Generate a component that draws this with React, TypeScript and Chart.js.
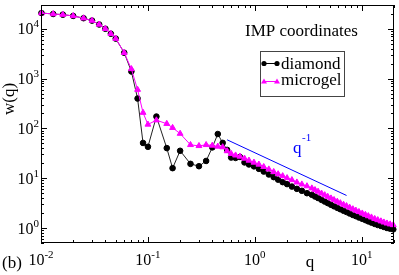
import React, { useEffect, useRef } from 'react';
import { Chart, registerables } from 'chart.js';
Chart.register(...registerables);

const qValues = [0.0101, 0.013, 0.016, 0.02, 0.025, 0.03, 0.035, 0.04, 0.045, 0.05, 0.06,
  0.07, 0.08, 0.09, 0.1, 0.12, 0.15, 0.17, 0.2, 0.25, 0.3, 0.35, 0.4, 0.45, 0.5, 0.55,
  0.6, 0.66, 0.725, 0.8, 0.88, 0.98, 1.09, 1.21, 1.35, 1.5, 1.65, 1.82, 2.0,
  2.22, 2.47, 2.75, 3.07, 3.41, 3.65, 3.9, 4.2, 4.5, 4.8, 5.15, 5.5, 5.9, 6.3, 6.75, 7.2,
  7.7, 8.25, 8.8, 9.4, 10.1, 10.8, 11.5, 12.3, 13.2, 14.1, 15.1, 16.1, 17.2, 18.4, 19.7];

const diamondW = [20700, 19800, 19200, 18100, 16300, 14600, 12200, 10000, 7960, 6340, 3300,
  1390, 398, 51, 42.7, 173, 40.2, 15.9, 35.5, 19.4, 17.4, 22.2, 41.5, 77.1, 51.2, 37,
  26.0, 25.5, 26.7, 20.7, 18.9, 17.3, 15.4, 13.6, 11.9, 10.5, 9.34, 8.33, 7.61,
  6.79, 6.11, 5.58, 5.0, 4.65, 4.3, 4.0, 3.67, 3.4, 3.16, 2.93, 2.73, 2.54, 2.38, 2.22, 2.09,
  1.96, 1.83, 1.73, 1.63, 1.53, 1.44, 1.36, 1.285, 1.21, 1.15, 1.1, 1.05, 1.0, 0.97, 0.94];

const microgelW = [20700, 19800, 19200, 18100, 16300, 14600, 12200, 10000, 7960, 6340, 3300,
  1560, 600, 207, 120, 146, 124, 103, 78.5, 46.7, 44.6, 46.7, 45.4, 43.4, 42.1, 35.1,
  31.0, 28.8, 27.3, 24.9, 22.7, 20.7, 18.9, 16.9, 15.1, 13.4, 12.1, 11.06, 10.1,
  9.21, 8.26, 7.54, 6.94, 6.28, 5.81, 5.4, 4.95, 4.59, 4.26, 3.95, 3.67, 3.4, 3.17, 2.95, 2.77,
  2.58, 2.4, 2.25, 2.11, 1.97, 1.85, 1.74, 1.64, 1.53, 1.45, 1.37, 1.3, 1.24, 1.19, 1.15];

const refLineQ = [0.55, 7.2];
const refLineW = [59, 4.5];

const xTickExps = [-2, -1, 0, 1];
const yTickExps = [0, 1, 2, 3, 4];
const minorMultipliers = [2, 3, 4, 5, 6, 7, 8, 9];

const SERIF = '"Liberation Serif", "DejaVu Serif", serif';

function drawPow(ctx: CanvasRenderingContext2D, exp: number, x: number, y: number, align: 'center' | 'right') {
  ctx.font = `16px ${SERIF}`;
  const wb = ctx.measureText('10').width;
  const es = exp < 0 ? '-' + Math.abs(exp) : String(exp);
  ctx.font = `11px ${SERIF}`;
  const we = ctx.measureText(es).width;
  const total = wb + we;
  const sx = align === 'center' ? x - total / 2 : x - total;
  ctx.textAlign = 'left';
  ctx.textBaseline = 'alphabetic';
  ctx.font = `16px ${SERIF}`;
  ctx.fillText('10', sx, y);
  ctx.font = `11px ${SERIF}`;
  ctx.fillText(es, sx + wb, y - 7);
}

const decor = {
  id: 'decor',
  afterDraw(chart: any) {
    const ctx: CanvasRenderingContext2D = chart.ctx;
    const { left, right, top, bottom } = chart.chartArea;
    const xs = chart.scales.x;
    const ys = chart.scales.y;
    ctx.save();
    ctx.strokeStyle = '#000';
    ctx.fillStyle = '#000';
    ctx.lineWidth = 1;
    ctx.strokeRect(left + 0.5, top + 0.5, right - left - 1, bottom - top - 1);

    ctx.beginPath();
    // x ticks
    for (const e of [-2, -1, 0, 1]) {
      for (const m of [1, ...minorMultipliers]) {
        const v = m * Math.pow(10, e);
        if (v < xs.min * 0.999 || v > xs.max * 1.001) continue;
        const px = Math.round(xs.getPixelForValue(v)) + 0.5;
        const len = m === 1 ? 6 : 3;
        ctx.moveTo(px, bottom); ctx.lineTo(px, bottom - len);
        ctx.moveTo(px, top); ctx.lineTo(px, top + len);
      }
    }
    // y ticks
    for (const e of [-1, 0, 1, 2, 3, 4]) {
      for (const m of [1, ...minorMultipliers]) {
        const v = m * Math.pow(10, e);
        if (v < ys.min * 0.999 || v > ys.max * 1.001) continue;
        const py = Math.round(ys.getPixelForValue(v)) + 0.5;
        const len = m === 1 ? 6 : 3;
        ctx.moveTo(left, py); ctx.lineTo(left + len, py);
        ctx.moveTo(right, py); ctx.lineTo(right - len, py);
      }
    }
    ctx.stroke();

    // tick labels
    for (const e of xTickExps) {
      const px = xs.getPixelForValue(Math.pow(10, e));
      drawPow(ctx, e, px, 265, 'center');
    }
    for (const e of yTickExps) {
      const py = ys.getPixelForValue(Math.pow(10, e));
      drawPow(ctx, e, left - 2, py + 5.5, 'right');
    }

    // axis titles
    ctx.font = `17px ${SERIF}`;
    ctx.textAlign = 'center';
    ctx.fillText('q', 310, 267);
    ctx.textAlign = 'left';
    ctx.fillText('(b)', 2, 268);
    ctx.save();
    ctx.translate(14, 99);
    ctx.rotate(-Math.PI / 2);
    ctx.textAlign = 'center';
    ctx.fillText('w(q)', 0, 0);
    ctx.restore();

    // annotation
    ctx.textAlign = 'left';
    ctx.font = `17px ${SERIF}`;
    ctx.fillText('IMP coordinates', 245, 36);

    // legend box
    ctx.strokeStyle = '#444';
    ctx.strokeRect(260.5, 51.5, 84, 45);
    ctx.fillStyle = '#000';
    ctx.fillText('diamond', 281, 69);
    ctx.fillText('microgel', 281, 85);
    // diamond sample
    ctx.strokeStyle = '#000';
    ctx.beginPath(); ctx.moveTo(264, 63.5); ctx.lineTo(277, 63.5); ctx.stroke();
    for (const sx of [264, 277]) {
      ctx.beginPath(); ctx.arc(sx, 63.5, 2.6, 0, Math.PI * 2); ctx.fill();
    }
    // microgel sample
    ctx.strokeStyle = '#ff00ff';
    ctx.fillStyle = '#ff00ff';
    ctx.beginPath(); ctx.moveTo(264, 81.5); ctx.lineTo(277, 81.5); ctx.stroke();
    for (const sx of [264, 277]) {
      ctx.beginPath();
      ctx.moveTo(sx, 78.5); ctx.lineTo(sx + 3, 83.5); ctx.lineTo(sx - 3, 83.5); ctx.closePath();
      ctx.fill();
    }

    // q^-1 label
    ctx.fillStyle = '#0000ff';
    ctx.font = `17px ${SERIF}`;
    ctx.fillText('q', 293, 153);
    ctx.font = `11px ${SERIF}`;
    ctx.fillText('-1', 302, 141);
    ctx.restore();
  },
};

export default function App() {
  const ref = useRef<HTMLCanvasElement>(null);
  useEffect(() => {
    document.body.style.margin = '0';
    const chart = new Chart(ref.current!, {
      type: 'scatter',
      data: {
        datasets: [
          {
            label: 'diamond',
            data: qValues.map((q, i) => ({ x: q, y: diamondW[i] })),
            showLine: true,
            borderColor: '#222',
            borderWidth: 1,
            pointStyle: 'circle',
            pointRadius: 2.8,
            pointBackgroundColor: '#000',
            pointBorderColor: '#000',
            pointBorderWidth: 1,
            order: 2,
            clip: false,
          } as any,
          {
            label: 'microgel',
            data: qValues.map((q, i) => ({ x: q, y: microgelW[i] })),
            showLine: true,
            borderColor: '#ff00ff',
            borderWidth: 1,
            pointStyle: 'triangle',
            pointRadius: 3.4,
            pointBackgroundColor: '#ff00ff',
            pointBorderColor: '#ff00ff',
            pointBorderWidth: 1,
            order: 1,
            clip: false,
          } as any,
          {
            label: 'q^-1',
            data: refLineQ.map((q, i) => ({ x: q, y: refLineW[i] })),
            showLine: true,
            borderColor: '#0000ff',
            borderWidth: 1,
            pointRadius: 0,
            order: 0,
          } as any,
        ],
      },
      options: {
        animation: false,
        responsive: false,
        devicePixelRatio: 1,
        events: [],
        layout: { padding: { left: 41, right: 2, top: 1, bottom: 32 } },
        plugins: { legend: { display: false }, tooltip: { enabled: false } },
        scales: {
          x: { type: 'logarithmic', min: 0.01, max: 20, display: false },
          y: { type: 'logarithmic', min: 0.5, max: 30000, display: false },
        },
      } as any,
      plugins: [decor],
    });
    return () => chart.destroy();
  }, []);
  return (
    <div style={{ position: 'fixed', left: 0, top: 0, width: 399, height: 275, background: '#fff' }}>
      <canvas ref={ref} width={399} height={275} style={{ display: 'block' }} />
    </div>
  );
}
